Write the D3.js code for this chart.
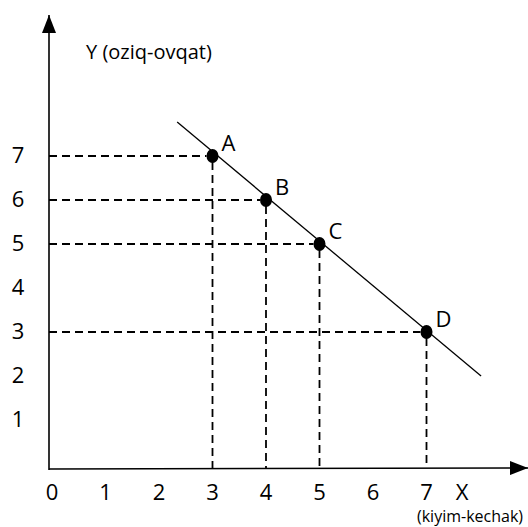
<!DOCTYPE html>
<html>
<head>
<meta charset="utf-8"/>
<style>
  body { margin: 0; background: white; }
  svg text { font-family: "Open Sans", "Noto Sans", sans-serif; fill: black; }
</style>
</head>
<body>
<svg id="chart" width="528" height="527"></svg>
<script src="https://cdnjs.cloudflare.com/ajax/libs/d3/7.8.5/d3.min.js"></script>
<script>
// tick labels on both axes
let xTicks = [0, 1, 2, 3, 4, 5, 6, 7];
let yTicks = [1, 2, 3, 4, 5, 6, 7];

// the four marked points
let pointNames = ["A", "B", "C", "D"];
let pointX = [3, 4, 5, 7];
let pointY = [7, 6, 5, 3];

// ends of the straight line through the points
let lineX = [2.34, 8.02];
let lineY = [7.77, 2.0];

let svg = d3.select("#chart");

// scales (origin at lower left)
let x = d3.scaleLinear().domain([0, 9]).range([52, 533.5]);
let y = d3.scaleLinear().domain([0, 10]).range([464, 24]);

// arrow heads
svg.append("defs").append("marker")
  .attr("id", "arrow")
  .attr("viewBox", "0 0 18 14")
  .attr("refX", 18).attr("refY", 7)
  .attr("markerWidth", 18).attr("markerHeight", 14)
  .attr("markerUnits", "userSpaceOnUse")
  .attr("orient", "auto")
  .append("path")
  .attr("d", "M0,0 L18,7 L0,14 Z")
  .attr("fill", "black");

// axes
svg.append("line")
  .attr("x1", x(0) - 3).attr("y1", y(0) + 6)
  .attr("x2", x(0) - 3).attr("y2", 15)
  .attr("stroke", "black").attr("stroke-width", 1.6)
  .attr("marker-end", "url(#arrow)");

svg.append("line")
  .attr("x1", x(0) - 3).attr("y1", y(0) + 5)
  .attr("x2", 528).attr("y2", y(0) + 4)
  .attr("stroke", "black").attr("stroke-width", 1.6)
  .attr("marker-end", "url(#arrow)");

// dashed guides
let pts = pointNames.map(function(n, i) { return {name: n, x: pointX[i], y: pointY[i]}; });

svg.append("g").selectAll("line")
  .data(pts).enter().append("line")
  .attr("x1", x(0) - 3).attr("x2", function(d) { return x(d.x) - 6; })
  .attr("y1", function(d) { return y(d.y); })
  .attr("y2", function(d) { return y(d.y); })
  .attr("stroke", "black").attr("stroke-width", 1.8)
  .attr("stroke-dasharray", "8,5");

svg.append("g").selectAll("line")
  .data(pts).enter().append("line")
  .attr("x1", function(d) { return x(d.x); })
  .attr("x2", function(d) { return x(d.x); })
  .attr("y1", function(d) { return y(d.y) + 6; })
  .attr("y2", y(0) + 4)
  .attr("stroke", "black").attr("stroke-width", 1.8)
  .attr("stroke-dasharray", "8,5");

// the line
svg.append("line")
  .attr("x1", x(lineX[0])).attr("y1", y(lineY[0]))
  .attr("x2", x(lineX[1])).attr("y2", y(lineY[1]))
  .attr("stroke", "black").attr("stroke-width", 1.3);

// points
svg.append("g").selectAll("ellipse")
  .data(pts).enter().append("ellipse")
  .attr("cx", function(d) { return x(d.x); })
  .attr("cy", function(d) { return y(d.y); })
  .attr("rx", 6).attr("ry", 7)
  .attr("fill", "black");

svg.append("g").selectAll("text")
  .data(pts).enter().append("text")
  .attr("x", function(d) { return x(d.x) + 9; })
  .attr("y", function(d) { return y(d.y) - 5; })
  .attr("font-size", 22)
  .text(function(d) { return d.name; });

// tick labels
svg.append("g").selectAll("text")
  .data(xTicks).enter().append("text")
  .attr("x", function(d) { return x(d); })
  .attr("y", 500)
  .attr("text-anchor", "middle")
  .attr("font-size", 22)
  .text(function(d) { return d; });

svg.append("g").selectAll("text")
  .data(yTicks).enter().append("text")
  .attr("x", 18)
  .attr("y", function(d) { return y(d) + 7; })
  .attr("text-anchor", "middle")
  .attr("font-size", 22)
  .text(function(d) { return d; });

// axis titles
svg.append("text").attr("x", 86).attr("y", 59)
  .attr("font-size", 20).text("Y (oziq-ovqat)");

svg.append("text").attr("x", 462).attr("y", 500)
  .attr("text-anchor", "middle").attr("font-size", 22).text("X");

svg.append("text").attr("x", 470).attr("y", 522)
  .attr("text-anchor", "middle").attr("font-size", 16).text("(kiyim-kechak)");
</script>
</body>
</html>
